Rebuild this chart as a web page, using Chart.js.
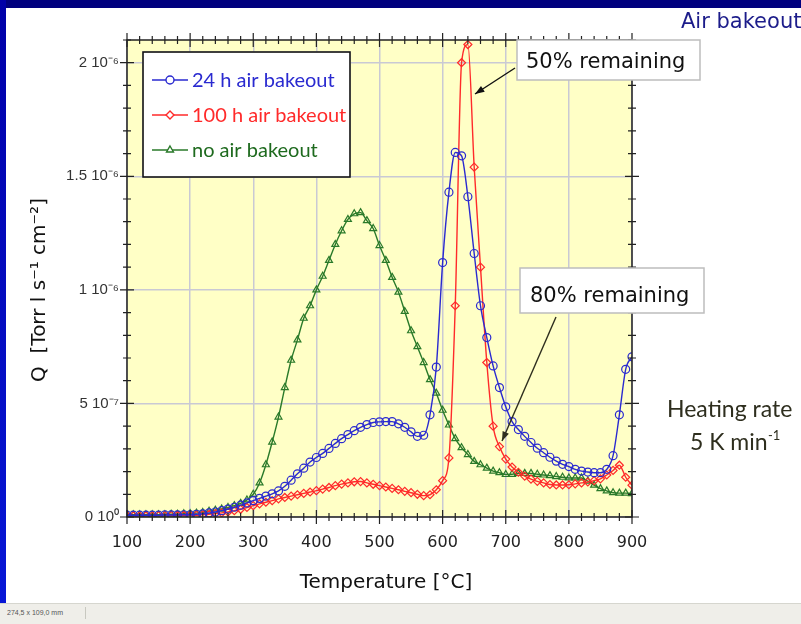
<!DOCTYPE html>
<html>
<head>
<meta charset="utf-8">
<script src="https://cdn.jsdelivr.net/npm/chart.js@4.4.1/dist/chart.umd.min.js"></script>
<style>
  html, body { margin: 0; padding: 0; background: #fff; }
  #wrap { position: relative; width: 801px; height: 624px; overflow: hidden; background: #fff; }
  #myChart { position: absolute; left: 0; top: 0; }
  #topband { position: absolute; left: 0; top: 0; width: 801px; height: 8px; background: #00007e; }
  #leftband { position: absolute; left: 0; top: 0; width: 6px; height: 624px; background: linear-gradient(#0000a8, #0818d8); }
  #status { position: absolute; left: 0; top: 603px; width: 801px; height: 21px; background: #efeee9; border-top: 1px solid #d6d6cf; }
  #status span { position: absolute; left: 7px; top: 3px; width: 78px; height: 12px; border-right: 1px solid #c8c8c0;
    font: 7px "Liberation Sans", sans-serif; color: #555; line-height: 12px; }
</style>
</head>
<body>
<div id="wrap">
  <canvas id="myChart" width="801" height="624"></canvas>
  <div id="topband"></div>
  <div id="leftband"></div>
  <div id="status"><span>274,5 x 109,0 mm</span></div>
</div>
<script>
(() => {
  "use strict";

  // Temperatures [°C]
  const temps = [
    100, 110, 120, 130, 140, 150, 160, 170, 180, 190,
    200, 210, 220, 230, 240, 250, 260, 270, 280, 290,
    300, 310, 320, 330, 340, 350, 360, 370, 380, 390,
    400, 410, 420, 430, 440, 450, 460, 470, 480, 490,
    500, 510, 520, 530, 540, 550, 560, 570, 580, 590,
    600, 610, 620, 630, 640, 650, 660, 670, 680, 690,
    700, 710, 720, 730, 740, 750, 760, 770, 780, 790,
    800, 810, 820, 830, 840, 850, 860, 870, 880, 890,
    900,
  ];

  // Q in units of 1e-7 Torr l s-1 cm-2
  const bake24h = [
    0.08, 0.08, 0.08, 0.08, 0.08, 0.08, 0.09, 0.09, 0.09, 0.1,
    0.1, 0.12, 0.14, 0.18, 0.22, 0.28, 0.35, 0.43, 0.52, 0.62,
    0.72, 0.82, 0.92, 1.02, 1.15, 1.35, 1.62, 1.9, 2.15, 2.42,
    2.62, 2.8, 3.02, 3.24, 3.45, 3.63, 3.8, 3.95, 4.07, 4.16,
    4.19, 4.2, 4.2, 4.1, 3.95, 3.75, 3.55, 3.6, 4.5, 6.6,
    11.2, 14.3, 16.05, 15.9, 14.1, 11.6, 9.3, 7.9, 6.65, 5.7,
    4.85, 4.2, 3.85, 3.55, 3.28, 3.03, 2.83, 2.63, 2.46, 2.32,
    2.22, 2.1, 2.02, 1.98, 1.95, 1.95, 2.1, 2.7, 4.5, 6.5,
    7.05,
  ];
  const bake100h = [
    0.05, 0.05, 0.05, 0.05, 0.05, 0.06, 0.06, 0.06, 0.07, 0.07,
    0.07, 0.08, 0.1, 0.12, 0.15, 0.18, 0.22, 0.28, 0.34, 0.42,
    0.5, 0.58, 0.65, 0.72, 0.8, 0.86, 0.92, 0.98, 1.04, 1.1,
    1.16, 1.23, 1.3, 1.38, 1.45, 1.5, 1.55, 1.56, 1.5, 1.44,
    1.38, 1.32, 1.26, 1.2, 1.13, 1.07, 1.0, 0.94, 0.98, 1.2,
    1.6, 2.6, 9.3, 20.0, 20.8, 15.4, 11.0, 6.8, 4.0, 3.1,
    2.55, 2.2, 1.97, 1.8, 1.67, 1.57, 1.5, 1.43, 1.41, 1.41,
    1.42, 1.46, 1.5, 1.54, 1.6, 1.68, 1.85, 2.05, 2.28, 1.75,
    1.4,
  ];
  const noBake = [
    0.1, 0.1, 0.1, 0.1, 0.1, 0.1, 0.1, 0.12, 0.12, 0.14,
    0.15, 0.17, 0.2, 0.25, 0.3, 0.35, 0.42, 0.5, 0.6, 0.75,
    1.0, 1.5, 2.3, 3.3, 4.4, 5.7, 6.9, 7.8, 8.75, 9.3,
    10.0, 10.6, 11.3, 12.0, 12.6, 13.1, 13.35, 13.4, 13.05, 12.7,
    11.95, 11.3, 10.55, 9.9, 9.05, 8.2, 7.5, 6.8, 6.05, 5.45,
    4.7, 4.05, 3.45, 3.05, 2.75, 2.45, 2.3, 2.15, 2.02, 1.95,
    1.87, 1.88, 1.92, 1.92, 1.92, 1.88, 1.85, 1.82, 1.78, 1.75,
    1.72, 1.72, 1.72, 1.58, 1.4, 1.25, 1.15, 1.07, 1.05, 1.05,
    1.03,
  ];

  const seriesLabels = ["24 h air bakeout", "100 h air bakeout", "no air bakeout"];
  const yTickValues = [0, 5, 10, 15, 20];
  const yTickLabels = ["0 10⁰", "5 10⁻⁷", "1 10⁻⁶", "1.5 10⁻⁶", "2 10⁻⁶"];

  const BLUE = "#2a2ad0";
  const RED = "#ff2a2a";
  const GREEN = "#2a7a2a";
  const TXT = "'DejaVu Sans', sans-serif";
  const NARROW = "Lato, sans-serif";

  const pts = (vals) => temps.map((t, i) => ({ x: t, y: vals[i] }));

  const series = (label, vals, color, style) => ({
    label,
    data: pts(vals),
    borderColor: color,
    borderWidth: 1.4,
    backgroundColor: "transparent",
    pointStyle: style,
    pointRadius: 4,
    pointBorderColor: color,
    pointBorderWidth: 1.2,
    pointBackgroundColor: "transparent",
    cubicInterpolationMode: "monotone",
  });

  function arrow(c, x1, y1, x2, y2, color) {
    const ang = Math.atan2(y2 - y1, x2 - x1);
    c.strokeStyle = color;
    c.fillStyle = color;
    c.lineWidth = 1.4;
    c.beginPath();
    c.moveTo(x1, y1);
    c.lineTo(x2, y2);
    c.stroke();
    c.beginPath();
    c.moveTo(x2, y2);
    c.lineTo(x2 - 10 * Math.cos(ang - 0.35), y2 - 10 * Math.sin(ang - 0.35));
    c.lineTo(x2 - 10 * Math.cos(ang + 0.35), y2 - 10 * Math.sin(ang + 0.35));
    c.closePath();
    c.fill();
  }

  function box(c, x, y, w, h) {
    c.fillStyle = "#fff";
    c.fillRect(x, y, w, h);
    c.strokeStyle = "#bdbdbd";
    c.lineWidth = 1.5;
    c.strokeRect(x, y, w, h);
  }

  const frame = {
    id: "frame",
    beforeDraw(chart) {
      const { ctx: c, chartArea: a } = chart;
      c.save();
      c.fillStyle = "#ffffc6";
      c.fillRect(a.left, a.top, a.width, a.height);
      c.restore();
    },
    afterDraw(chart) {
      const { ctx: c, chartArea: a, scales } = chart;
      const sx = scales.x;
      const sy = scales.y;
      c.save();

      // axis frame and crossing ticks
      c.strokeStyle = "#222";
      c.lineWidth = 1.5;
      c.strokeRect(a.left, a.top, a.width, a.height);
      c.lineWidth = 1.2;
      c.beginPath();
      for (let t = 100; t <= 900; t += 20) {
        const px = sx.getPixelForValue(t);
        const len = t % 100 === 0 ? 7 : 4;
        c.moveTo(px, a.bottom - len);
        c.lineTo(px, a.bottom + len);
        c.moveTo(px, a.top - len);
        c.lineTo(px, a.top + len);
      }
      for (let v = 0; v <= 21; v += 1) {
        const py = sy.getPixelForValue(v);
        const len = v % 5 === 0 ? 7 : 4;
        c.moveTo(a.left - len, py);
        c.lineTo(a.left + len, py);
        c.moveTo(a.right - len, py);
        c.lineTo(a.right + len, py);
      }
      c.stroke();

      // legend
      box(c, 143, 52, 207, 125);
      c.strokeStyle = "#111";
      c.strokeRect(143, 52, 207, 125);
      const colors = [BLUE, RED, GREEN];
      chart.data.datasets.forEach((ds, i) => {
        const yy = 80 + i * 35;
        c.strokeStyle = colors[i];
        c.lineWidth = 1.4;
        c.beginPath();
        c.moveTo(152, yy);
        c.lineTo(188, yy);
        c.stroke();
        c.fillStyle = "#fff";
        Chart.helpers.drawPoint(c, {
          pointStyle: ds.pointStyle, radius: 4, borderWidth: 1.2, rotation: 0,
        }, 170, yy);
        c.fillStyle = i === 2 ? "#1e6a1e" : colors[i];
        c.font = "20px " + NARROW;
        c.textBaseline = "middle";
        c.fillText(ds.label, 192, yy + 1);
      });

      // annotations
      box(c, 517, 40, 183, 40);
      box(c, 520, 268, 184, 45);
      c.fillStyle = "#111";
      c.font = "21px " + TXT;
      c.textBaseline = "alphabetic";
      c.fillText("50% remaining", 526, 68);
      c.fillText("80% remaining", 530, 302);
      arrow(c, 515, 68, 475, 94, "#111");
      arrow(c, 556, 317, 502, 441, "#2e2e1e");

      c.font = "23px " + NARROW;
      c.fillText("Heating rate", 667, 417);
      c.fillText("5 K min", 690, 450);
      c.font = "13px " + NARROW;
      c.fillText("-1", 768, 440);

      c.fillStyle = "#1c1c8a";
      c.font = "21px " + TXT;
      c.fillText("Air bakeout", 681, 28);

      // axis titles
      c.fillStyle = "#111";
      c.font = "20px " + TXT;
      c.textAlign = "center";
      c.fillText("Temperature [°C]", 386, 588);
      c.translate(45, 290);
      c.rotate(-Math.PI / 2);
      c.fillText("Q  [Torr l s⁻¹ cm⁻²]", 0, 0);
      c.restore();
    },
  };

  const ctx = document.getElementById("myChart");
  // eslint-disable-next-line no-unused-vars
  const myChart = new Chart(ctx, {
    type: "line",
    data: {
      datasets: [
        series(seriesLabels[0], bake24h, BLUE, "circle"),
        series(seriesLabels[1], bake100h, RED, "rectRot"),
        series(seriesLabels[2], noBake, GREEN, "triangle"),
      ],
    },
    options: {
      responsive: false,
      animation: false,
      layout: { padding: { top: 40, right: 169, left: 0, bottom: 0 } },
      scales: {
        x: {
          type: "linear",
          min: 100,
          max: 900,
          afterFit: (s) => { s.height = 107; },
          ticks: { stepSize: 100, padding: 16, color: "#222", font: { family: "DejaVu Sans", size: 16 } },
          grid: { color: "#c9c9d4", lineWidth: 1.5, drawTicks: false },
          border: { display: false },
        },
        y: {
          min: 0,
          max: 21,
          afterFit: (s) => { s.width = 127; },
          ticks: {
            stepSize: 5,
            includeBounds: false,
            padding: 8,
            color: "#333",
            font: { family: "Liberation Sans", size: 15 },
            callback: (v) => {
              const i = yTickValues.indexOf(v);
              return i >= 0 ? yTickLabels[i] : "";
            },
          },
          grid: { color: "#c9c9d4", lineWidth: 1.5, drawTicks: false },
          border: { display: false },
        },
      },
      plugins: {
        legend: { display: false },
        tooltip: { enabled: false },
      },
    },
    plugins: [frame],
  });
})();
</script>
</body>
</html>
